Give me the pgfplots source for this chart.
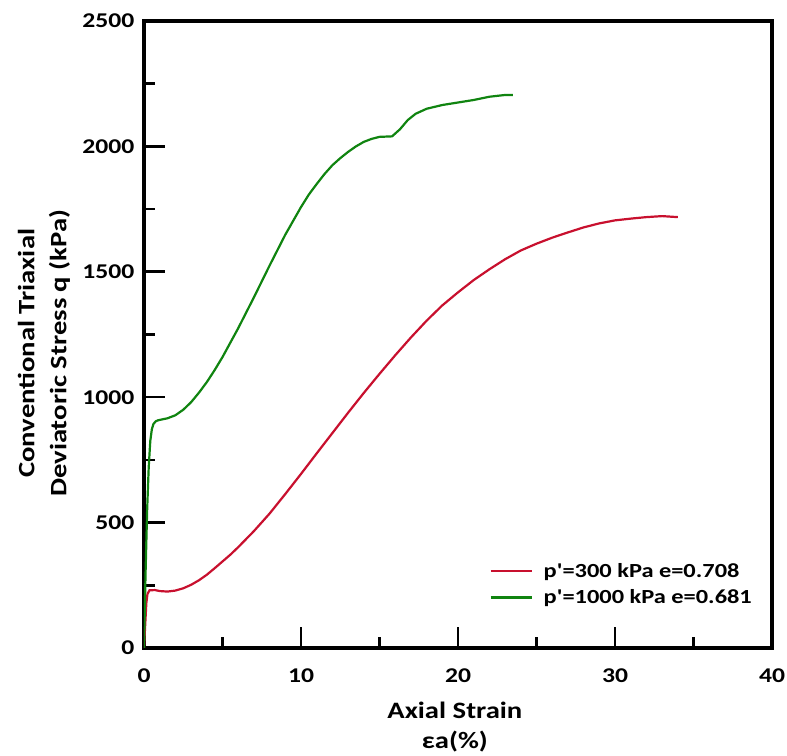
\documentclass[border=0pt]{standalone}
\usepackage{fontspec}
\setmainfont{Carlito}[FakeStretch=1.22, Ligatures=TeXOff]
\usepackage{pgfplots}
\pgfplotsset{compat=1.18}
\definecolor{cred}{RGB}{200,16,46}
\definecolor{cgreen}{RGB}{16,132,16}
\begin{document}
\begin{tikzpicture}
\begin{axis}[
  scale only axis,
  width=628pt, height=627pt,
  xmin=0, xmax=40, ymin=0, ymax=2500,
  xtick={0,10,20,30,40}, ytick={0,500,1000,1500,2000,2500},
  minor xtick={5,15,25,35}, minor ytick={250,750,1250,1750,2250},
  tick align=inside,
  xtick pos=bottom, ytick pos=left,
  major tick length=21pt, minor tick length=11pt,
  every tick/.style={black, line width=2.6pt},
  line width=3.2pt,
  axis line style={line width=3.2pt, line join=miter},
  /pgf/number format/assume math mode=true,
  /pgf/number format/1000 sep={},
  tick label style={font=\fontsize{21}{24}\selectfont\bfseries},
  xticklabel style={anchor=north, inner sep=0pt, yshift=-19pt},
  yticklabel style={anchor=east, inner sep=0pt, xshift=-8pt},
  xlabel={Axial Strain\\εa(\%)},
  ylabel={Conventional Triaxial\\Deviatoric Stress q (kPa)},
  every axis x label/.style={at={(rel axis cs:0.495,0)}, anchor=center, yshift=-79pt,
    font=\fontsize{23.5}{30}\selectfont\bfseries, align=center},
  every axis y label/.style={at={(rel axis cs:0,0.47)}, anchor=center, xshift=-100pt, rotate=90,
    font=\fontsize{23.5}{32}\selectfont\bfseries, align=center},
  legend style={draw=none, fill=none, inner sep=0pt, at={(axis cs:21.9,352)}, anchor=north west,
    font=\fontsize{20}{22}\selectfont\bfseries, row sep=7pt},
  legend cell align=left,
  legend image code/.code={\draw[#1, line width=2.4pt] (0pt,0pt) -- (41pt,0pt); \path (50pt,0pt);},
]
\coordinate (ll) at (rel axis cs:0,0);
\coordinate (ur) at (rel axis cs:1,1);
\addplot[cred, line width=2.2pt] coordinates {
(0,0) (0.05,60) (0.1,120) (0.15,180) (0.22,215) (0.35,230) (0.7,231) (1.0,227) (1.5,225)
(2.0,229) (2.5,238) (3,252) (3.5,270) (4,292) (4.5,318) (5,345) (5.5,372) (6,402) (7,466) (8,536) (9,614)
(10,694) (11,776) (12,857) (13,938) (14,1017) (15,1093) (16,1167) (17,1238) (18,1305)
(19,1366) (20,1418) (21,1467) (22,1510) (23,1550) (24,1585) (25,1612) (26,1636)
(27,1657) (28,1677) (29,1693) (30,1705) (31,1712) (32,1718) (33,1722) (34,1718)
};
\addlegendentry{p'=300 kPa e=0.708}
\addplot[cgreen, line width=2.2pt] coordinates {
(0,0) (0.05,150) (0.1,300) (0.2,550) (0.3,720) (0.4,825) (0.5,872) (0.6,893) (0.75,904) (0.9,908)
(1.5,916) (2,928) (2.5,950) (3,980) (3.5,1018) (4,1060) (4.5,1108) (5,1160) (6,1275) (7,1398) (8,1525)
(9,1648) (10,1758) (10.5,1808) (11,1850) (11.5,1890) (12,1925) (12.5,1953) (13,1978) (13.5,2000) (14,2018) (14.5,2030) (15,2038) (15.8,2040)
(16.3,2068) (16.8,2105) (17.3,2130) (18,2150) (19,2165) (20,2175) (21,2185) (22,2198) (23,2205) (23.5,2205)
};
\addlegendentry{p'=1000 kPa e=0.681}
\end{axis}
\pgfresetboundingbox
\path[use as bounding box] ([shift={(-144pt,-108pt)}]ll) rectangle ([shift={(15pt,21pt)}]ur);
\end{tikzpicture}
\end{document}
